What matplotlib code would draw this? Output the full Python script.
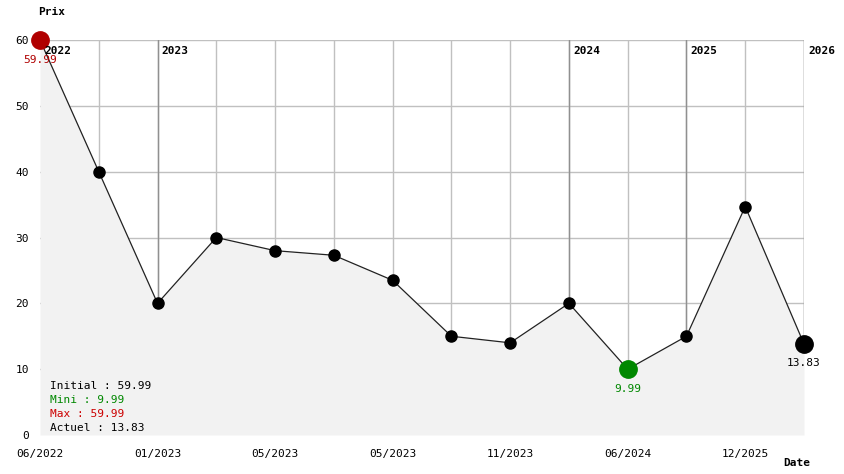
import matplotlib.pyplot as plt

# données du graphique
labels = ['06/2022', '', '01/2023', '', '05/2023', '', '05/2023', '',
          '11/2023', '', '06/2024', '', '12/2025', '']
prix = [59.99, 40, 20, 30, 28, 27.3, 23.5, 15, 14, 20, 9.99, 15, 34.7, 13.83]
annees = ['2022', '2023', '2024', '2025', '2026']
annees_idx = [0, 2, 9, 11, 13]
yticks = [0, 10, 20, 30, 40, 50, 60]

mono = 'DejaVu Sans Mono'
rouge = '#b00000'
vert = '#008800'

fig = plt.figure(figsize=(8.44, 4.74), dpi=100)
W, H = 844, 474
ax = fig.add_axes([40 / W, (H - 435) / H, 764 / W, 395 / H])
x = list(range(len(prix)))
ax.set_xlim(0, len(prix) - 1)
ax.set_ylim(0, 60)

# grille (la ligne de gauche est cachée par la zone remplie)
for yv in yticks[1:]:
    ax.axhline(yv, color='#c0c0c0', lw=1, zorder=1)
for xv in x[1:]:
    ax.axvline(xv, color='#c0c0c0', lw=1, zorder=1)
for xv in annees_idx[1:]:
    ax.axvline(xv, color='#909090', lw=1, zorder=1.5)

# zone remplie + courbe
ax.fill_between(x, prix, 0, color='#f2f2f2', zorder=2, lw=0)
ax.plot(x, prix, color='#222222', lw=0.9, zorder=3)
ax.plot(x, prix, 'o', color='black', ms=8, zorder=4, clip_on=False)

i_max = prix.index(max(prix))
i_min = prix.index(min(prix))
i_last = len(prix) - 1
ax.plot(i_max, prix[i_max], 'o', color=rouge, ms=12.5, zorder=5, clip_on=False)
ax.plot(i_min, prix[i_min], 'o', color=vert, ms=12.5, zorder=5, clip_on=False)
ax.plot(i_last, prix[i_last], 'o', color='black', ms=12.5, zorder=5, clip_on=False)

ax.annotate(f'{prix[i_max]:.2f}', (i_max, prix[i_max]), xytext=(0, -14),
            textcoords='offset points', ha='center', va='center',
            color=rouge, fontsize=8, family=mono, zorder=6)
ax.annotate(f'{prix[i_min]:.2f}', (i_min, prix[i_min]), xytext=(0, -14),
            textcoords='offset points', ha='center', va='center',
            color=vert, fontsize=8, family=mono, zorder=6)
ax.annotate(f'{prix[i_last]:.2f}', (i_last, prix[i_last]), xytext=(0, -14),
            textcoords='offset points', ha='center', va='center',
            color='black', fontsize=8, family=mono, zorder=6)

# années
for a, xi in zip(annees, annees_idx):
    ax.annotate(a, (xi, 60), xytext=(3, -8), textcoords='offset points',
                ha='left', va='center', fontsize=8, family=mono,
                weight='bold', zorder=6, annotation_clip=False)

# résumé
lignes = [(f'Initial : {prix[0]:.2f}', 'black'),
          (f'Mini : {prix[i_min]:.2f}', vert),
          (f'Max : {prix[i_max]:.2f}', '#cc0000'),
          (f'Actuel : {prix[i_last]:.2f}', 'black')]
for k, (t, c) in enumerate(lignes):
    fig.text(50 / W, 1 - (386 + k * 14) / H, t, color=c, fontsize=8,
             family=mono, va='center', ha='left', zorder=7)

# axes
for s in ax.spines.values():
    s.set_visible(False)
ax.set_yticks(yticks)
ax.set_yticklabels([str(v) for v in yticks], family=mono, fontsize=8)
ax.set_xticks(x)
ax.set_xticklabels(labels, family=mono, fontsize=8)
ax.tick_params(length=0, pad=10)
ax.tick_params(axis='y', pad=8)

fig.text(38 / W, 1 - 12 / H, 'Prix', fontsize=8, family=mono, weight='bold',
         va='center')
fig.text(783 / W, 1 - 463 / H, 'Date', fontsize=8, family=mono,
         weight='bold', va='center')

fig.savefig('out.png', dpi=100)
